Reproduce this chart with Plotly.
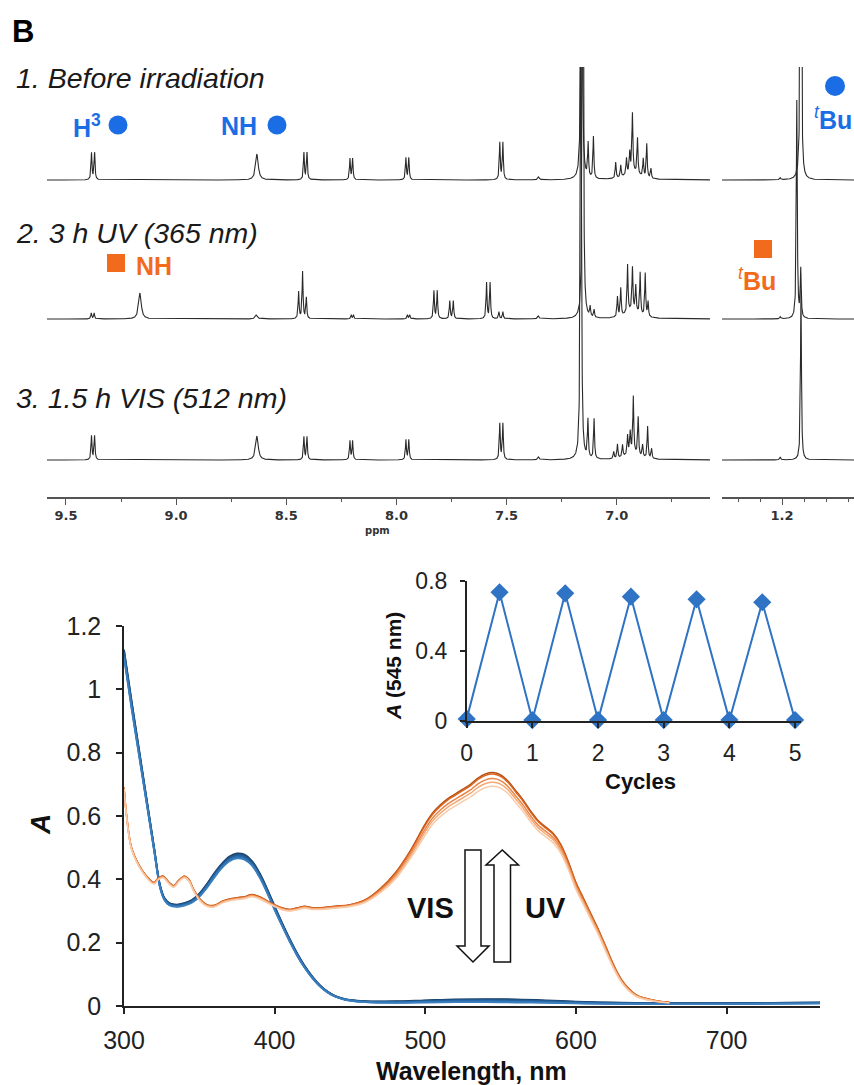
import numpy as np
import plotly.graph_objects as go

W, H = 854, 1085


def px(x):
    return x / W


def py(y):
    return 1 - y / H


# ------------------------------------------------------------------
# 1H NMR data: line positions (ppm), intensities, half widths (ppm)
# ------------------------------------------------------------------
nmr1_ppm = [9.384, 9.370, 8.633, 8.420, 8.406, 8.211, 8.199, 7.957, 7.944, 7.531, 7.517,
            7.355, 7.160, 7.130, 7.106, 7.005, 6.982, 6.956, 6.941, 6.929, 6.906, 6.880,
            6.864, 6.845, 6.930]
nmr1_int = [27, 27, 26, 27, 27, 21, 21, 22, 22, 37, 37,
            3, 600, 34, 42, 16, 12, 16, 20, 58, 36, 18,
            34, 10, 8]
nmr1_hw = [.0025, .0025, .007, .0025, .0025, .0025, .0025, .0025, .0025, .0025, .0025,
           .004, .0025, .0025, .0025, .0025, .0025, .0025, .0025, .0025, .0025, .0025,
           .0025, .0025, .035]

nmr2_ppm = [9.385, 9.372, 9.164, 8.636, 8.444, 8.426, 8.409, 8.205, 8.195, 7.950, 7.940,
            7.830, 7.815, 7.758, 7.742, 7.591, 7.575, 7.535, 7.517, 7.356, 7.154, 7.121,
            7.103, 6.997, 6.982, 6.951, 6.929, 6.914, 6.894, 6.871, 6.858, 6.930]
nmr2_int = [6, 6, 26, 4, 27, 47, 21, 4, 4, 4, 4,
            28, 28, 18, 18, 36, 36, 7, 7, 3, 600, 10,
            8, 20, 28, 48, 43, 26, 42, 43, 15, 8]
nmr2_hw = [.0025, .0025, .007, .006, .0025, .0025, .0025, .0025, .0025, .0025, .0025,
           .0025, .0025, .0025, .0025, .0025, .0025, .0025, .0025, .004, .0025, .0025,
           .0025, .0025, .0025, .0025, .0025, .0025, .0025, .0025, .0025, .035]

nmr3_ppm = [9.384, 9.370, 8.633, 8.420, 8.406, 8.211, 8.199, 7.957, 7.944, 7.531, 7.517,
            7.355, 7.163, 7.131, 7.103, 7.014, 6.997, 6.974, 6.951, 6.939, 6.925, 6.903,
            6.883, 6.860, 6.842, 6.930]
nmr3_int = [24, 24, 24, 23, 23, 19, 19, 20, 20, 36, 36,
            3, 600, 38, 40, 7, 14, 12, 19, 21, 56, 38,
            12, 32, 10, 7]
nmr3_hw = [.0025, .0025, .007, .0025, .0025, .0025, .0025, .0025, .0025, .0025, .0025,
           .004, .0025, .0025, .0025, .0025, .0025, .0025, .0025, .0025, .0025, .0025,
           .0025, .0025, .0025, .035]

# aliphatic window (tBu region)
nmr1r_ppm = [1.115, 1.208]
nmr1r_int = [500, 2]
nmr1r_hw = [.0025, .003]
nmr2r_ppm = [1.133, 1.115, 1.208]
nmr2r_int = [218, 48, 2]
nmr2r_hw = [.0025, .0025, .003]
nmr3r_ppm = [1.114, 1.208]
nmr3r_int = [170, 3]
nmr3r_hw = [.0025, .003]

nmr_ticks = [9.5, 9.0, 8.5, 8.0, 7.5, 7.0]
nmr_ticktext = ["9.5", "9.0", "8.5", "8.0", "7.5", "7.0"]
nmr_minor = [9.25, 8.75, 8.25, 7.75, 7.25, 6.75]
nmr_r_ticks = [1.2]
nmr_r_ticktext = ["1.2"]
nmr_r_minor = [1.4, 1.3, 1.1, 1.0, 0.9]

spectrum_titles = ["1. Before irradiation", "2. 3 h UV (365 nm)", "3. 1.5 h VIS (512 nm)"]

# ------------------------------------------------------------------
# UV-vis data
# ------------------------------------------------------------------
wl_orange = [300, 302, 305, 310, 315, 320, 323, 326, 330, 333,
             336, 340, 343, 346, 350, 355, 360, 365, 370, 375,
             380, 385, 390, 395, 400, 405, 410, 415, 420, 425,
             430, 440, 450, 460, 470, 480, 490, 500, 505, 510,
             515, 520, 525, 530, 535, 540, 545, 550, 555, 560,
             565, 570, 575, 580, 585, 590, 595, 600, 605, 610,
             615, 620, 625, 630, 635, 640, 645, 650, 655, 662]
orange_hi = [0.69, 0.59, 0.50, 0.445, 0.41, 0.39, 0.405, 0.41, 0.39, 0.38,
             0.395, 0.41, 0.40, 0.37, 0.34, 0.32, 0.318, 0.33, 0.338, 0.342,
             0.345, 0.352, 0.345, 0.332, 0.32, 0.31, 0.305, 0.31, 0.315, 0.31,
             0.31, 0.315, 0.32, 0.335, 0.37, 0.42, 0.49, 0.575, 0.61, 0.635,
             0.655, 0.67, 0.685, 0.70, 0.72, 0.733, 0.737, 0.73, 0.71, 0.68,
             0.65, 0.615, 0.585, 0.565, 0.545, 0.51, 0.455, 0.39, 0.34, 0.29,
             0.24, 0.185, 0.13, 0.085, 0.055, 0.035, 0.026, 0.02, 0.015, 0.012]
orange_lo = [0.685, 0.585, 0.495, 0.44, 0.405, 0.385, 0.40, 0.405, 0.385, 0.375,
             0.39, 0.405, 0.395, 0.365, 0.335, 0.315, 0.313, 0.325, 0.332, 0.336,
             0.339, 0.345, 0.338, 0.326, 0.314, 0.304, 0.30, 0.304, 0.309, 0.305,
             0.305, 0.309, 0.314, 0.327, 0.357, 0.40, 0.465, 0.54, 0.575, 0.598,
             0.617, 0.632, 0.646, 0.66, 0.678, 0.69, 0.694, 0.688, 0.67, 0.642,
             0.614, 0.581, 0.553, 0.534, 0.515, 0.482, 0.43, 0.368, 0.32, 0.272,
             0.224, 0.17, 0.118, 0.076, 0.048, 0.03, 0.022, 0.017, 0.013, 0.01]

wl_blue = [300, 305, 310, 315, 320, 324, 327, 330, 335, 340,
           345, 350, 355, 360, 365, 370, 375, 380, 385, 390,
           395, 400, 405, 410, 415, 420, 425, 430, 435, 440,
           445, 450, 460, 480, 500, 520, 540, 560, 580, 600,
           620, 650, 700, 730, 762]
blue_hi = [1.125, 0.965, 0.81, 0.655, 0.50, 0.38, 0.34, 0.325, 0.32, 0.325,
           0.335, 0.355, 0.385, 0.42, 0.45, 0.472, 0.482, 0.478, 0.458, 0.42,
           0.37, 0.315, 0.262, 0.212, 0.166, 0.126, 0.093, 0.066, 0.046, 0.032,
           0.024, 0.019, 0.015, 0.015, 0.018, 0.021, 0.022, 0.021, 0.018, 0.014,
           0.011, 0.009, 0.009, 0.01, 0.011]
blue_lo = [1.10, 0.94, 0.79, 0.64, 0.49, 0.372, 0.333, 0.318, 0.313, 0.317,
           0.326, 0.345, 0.373, 0.406, 0.436, 0.457, 0.466, 0.462, 0.443, 0.406,
           0.357, 0.303, 0.252, 0.203, 0.158, 0.12, 0.088, 0.062, 0.043, 0.03,
           0.022, 0.017, 0.012, 0.01, 0.011, 0.012, 0.012, 0.011, 0.01, 0.008,
           0.007, 0.006, 0.006, 0.007, 0.008]
# absorbance at 375 nm of the open form after each VIS step (cycles 0..5)
blue_a375 = [0.482, 0.479, 0.476, 0.472, 0.469, 0.466]

# inset: A(545 nm) vs. cycles
cycles = [0, 0.5, 1, 1.5, 2, 2.5, 3, 3.5, 4, 4.5, 5]
a545 = [0.012, 0.734, 0.005, 0.728, 0.005, 0.709, 0.005, 0.694, 0.005, 0.677, 0.005]

orange_colors = ["#B24C12", "#D8641E", "#EC8444", "#F4A877", "#F9CBA8"]
blue_colors = ["#173E66", "#1F4E7E", "#245C92", "#2968A4", "#2E73B3", "#3A7EBE"]

BLUE_LBL = "#1B6DE6"
ORANGE_LBL = "#F26B1D"
TXT = "#1a1a1a"
SANS = "Liberation Sans, Arial, sans-serif"

fig = go.Figure()


def spectrum(grid, ppm, inten, hw):
    y = np.zeros_like(grid)
    for p, a, w in zip(ppm, inten, hw):
        y += a * w * w / ((grid - p) ** 2 + w * w)
    return y


grid_l = np.arange(6.57, 9.595, 0.0005)
grid_r = np.arange(0.87, 1.48, 0.0005)
offsets = [280, 141, 0]
spec_sets = [
    (nmr1_ppm, nmr1_int, nmr1_hw, nmr1r_ppm, nmr1r_int, nmr1r_hw),
    (nmr2_ppm, nmr2_int, nmr2_hw, nmr2r_ppm, nmr2r_int, nmr2r_hw),
    (nmr3_ppm, nmr3_int, nmr3_hw, nmr3r_ppm, nmr3r_int, nmr3r_hw),
]
for off, (pl, il, wl, pr, ir, wr) in zip(offsets, spec_sets):
    fig.add_trace(go.Scatter(x=grid_l, y=off + spectrum(grid_l, pl, il, wl), mode="lines",
                             line=dict(color="#2a2a2a", width=1.1), xaxis="x", yaxis="y",
                             hoverinfo="skip"))
    fig.add_trace(go.Scatter(x=grid_r, y=off + spectrum(grid_r, pr, ir, wr), mode="lines",
                             line=dict(color="#2a2a2a", width=1.1), xaxis="x2", yaxis="y2",
                             hoverinfo="skip"))

# UV-vis: blue family (after VIS), then orange family (after UV)
bh, bl = np.array(blue_hi), np.array(blue_lo)
for i in range(len(blue_a375)):
    t = (blue_a375[0] - blue_a375[i]) / (blue_a375[0] - blue_a375[-1])
    fig.add_trace(go.Scatter(x=wl_blue, y=bh + t * (bl - bh), mode="lines", line_shape="spline",
                             line=dict(color=blue_colors[i], width=1.8), xaxis="x3", yaxis="y3",
                             hoverinfo="skip"))

oh, ol = np.array(orange_hi), np.array(orange_lo)
peaks = a545[1::2]
for i in range(len(peaks)):
    t = (peaks[0] - peaks[i]) / (peaks[0] - peaks[-1])
    fig.add_trace(go.Scatter(x=wl_orange, y=oh + t * (ol - oh), mode="lines", line_shape="spline",
                             line=dict(color=orange_colors[i], width=1.5), xaxis="x3", yaxis="y3",
                             hoverinfo="skip"))

# inset
fig.add_trace(go.Scatter(x=cycles, y=a545, mode="lines+markers", cliponaxis=False,
                         line=dict(color="#2F74C4", width=2),
                         marker=dict(symbol="diamond", size=14, color="#2F74C4"),
                         xaxis="x4", yaxis="y4", hoverinfo="skip"))

nmr_axis = dict(showline=True, linecolor="#555", linewidth=1.5, ticks="outside", ticklen=6,
                tickwidth=1, tickcolor="#555", showgrid=False, zeroline=False, automargin=False,
                tickfont=dict(family="DejaVu Sans", size=13, color="#333", weight="bold"))

uv_axis = dict(showline=True, linecolor="#222", linewidth=1.5, ticks="outside", ticklen=6,
               tickwidth=1.5, tickcolor="#222", showgrid=False, zeroline=False, automargin=False,
               tickfont=dict(family=SANS, size=25, color="#222"))

ins_axis = dict(showline=True, linecolor="#222", linewidth=1.5, ticks="outside", ticklen=5,
                tickwidth=1.5, tickcolor="#222", showgrid=False, zeroline=False, automargin=False,
                tickfont=dict(family=SANS, size=23, color="#222"))

fig.update_layout(
    width=W, height=H, margin=dict(l=0, r=0, t=0, b=0, autoexpand=False),
    paper_bgcolor="white", plot_bgcolor="rgba(0,0,0,0)", showlegend=False,
    xaxis=dict(domain=[px(47), px(710)], range=[9.586, 6.577], anchor="y",
               tickvals=nmr_ticks, ticktext=nmr_ticktext,
               minor=dict(tickvals=nmr_minor, ticks="outside", ticklen=3, tickcolor="#555"),
               **nmr_axis),
    yaxis=dict(domain=[py(497), py(67)], range=[-37, 393], visible=False, anchor="x",
               automargin=False),
    xaxis2=dict(domain=[px(722), 1.0], range=[1.473, 0.873], anchor="y2",
                tickvals=nmr_r_ticks, ticktext=nmr_r_ticktext,
                minor=dict(tickvals=nmr_r_minor, ticks="outside", ticklen=3, tickcolor="#555"),
                **nmr_axis),
    yaxis2=dict(domain=[py(497), py(67)], range=[-37, 393], visible=False, anchor="x2",
                automargin=False),
    xaxis3=dict(domain=[px(124), px(820)], range=[300, 762], anchor="y3",
                tickvals=[300, 400, 500, 600, 700], ticklabelstandoff=5, **uv_axis),
    yaxis3=dict(domain=[py(1006), py(626)], range=[0, 1.2], anchor="x3",
                tickvals=[0, 0.2, 0.4, 0.6, 0.8, 1.0, 1.2],
                ticktext=["0", "0.2", "0.4", "0.6", "0.8", "1", "1.2"],
                ticklabelstandoff=10, **uv_axis),
    xaxis4=dict(domain=[px(466.7), px(801)], range=[0, 5.09], anchor="y4",
                tickvals=[0, 1, 2, 3, 4, 5], ticklabelstandoff=6, **ins_axis),
    yaxis4=dict(domain=[py(721), py(580.7)], range=[0, 0.8], anchor="x4",
                tickvals=[0, 0.4, 0.8], ticktext=["0", "0.4", "0.8"],
                ticklabelstandoff=8, **ins_axis),
)

ann = []


def add_text(text, x, y, size, color=TXT, xanchor="left", yanchor="middle", family=SANS, angle=0):
    ann.append(dict(text=text, x=px(x), y=py(y), xref="paper", yref="paper", showarrow=False,
                    xanchor=xanchor, yanchor=yanchor, textangle=angle,
                    font=dict(family=family, size=size, color=color)))


add_text("<b>B</b>", 10, 31, 31, color="#000")
for title, yy in zip(spectrum_titles, [78, 233, 398]):
    add_text("<i>" + title + "</i>", 14, yy, 28.5)
add_text("<b>H<sup>3</sup></b>", 71, 126, 25, color=BLUE_LBL)
add_text("<b>NH</b>", 219, 126, 25, color=BLUE_LBL)
add_text("<sup><i>t</i></sup><b>Bu</b>", 812, 118, 25, color=BLUE_LBL)
add_text("<b>NH</b>", 134, 266, 25, color=ORANGE_LBL)
add_text("<sup><i>t</i></sup><b>Bu</b>", 736, 279, 25, color=ORANGE_LBL)
add_text("<b>ppm</b>", 377, 530, 10, color="#333", xanchor="center", family="DejaVu Sans")

add_text("<b><i>A</i></b>", 40, 825, 28, color="#111", xanchor="center", angle=-90)
add_text("<b>Wavelength, nm</b>", 472, 1071, 25, color="#111", xanchor="center")
add_text("<b>Cycles</b>", 640, 781, 22, color="#111", xanchor="center")
add_text("<b><i>A</i> (545 nm)</b>", 393, 666, 21, color="#111", xanchor="center", angle=-90)
add_text("<b>VIS</b>", 430, 908, 29, color="#111", xanchor="center")
add_text("<b>UV</b>", 545, 908, 29, color="#111", xanchor="center")
fig.update_layout(annotations=ann)

shapes = []


def marker_shape(kind, cx, cy, r, color):
    shapes.append(dict(type=kind, xref="paper", yref="paper", xsizemode="pixel", ysizemode="pixel",
                       xanchor=px(cx), yanchor=py(cy), x0=-r, x1=r, y0=-r, y1=r,
                       fillcolor=color, line=dict(width=0)))


marker_shape("circle", 118, 125, 9.5, BLUE_LBL)
marker_shape("circle", 277, 125, 9.5, BLUE_LBL)
marker_shape("circle", 835, 86, 10, BLUE_LBL)
marker_shape("rect", 116, 263, 9, ORANGE_LBL)
marker_shape("rect", 763, 249, 9, ORANGE_LBL)


def path_from(points):
    s = "M " + " L ".join(f"{px(x):.5f},{py(y):.5f}" for x, y in points) + " Z"
    return s


down_arrow = [(465, 850), (481, 850), (481, 946), (489, 946), (473, 962), (457, 946), (465, 946)]
up_arrow = [(494, 962), (510.5, 962), (510.5, 865), (518.5, 865), (502.3, 850), (486, 865), (494, 865)]
for pts in (down_arrow, up_arrow):
    shapes.append(dict(type="path", xref="paper", yref="paper", path=path_from(pts),
                       fillcolor="white", line=dict(color="#111", width=1.5)))
fig.update_layout(shapes=shapes)

fig.write_html("out.html", config={"displayModeBar": False},
               post_script="document.body.style.margin='0';")
